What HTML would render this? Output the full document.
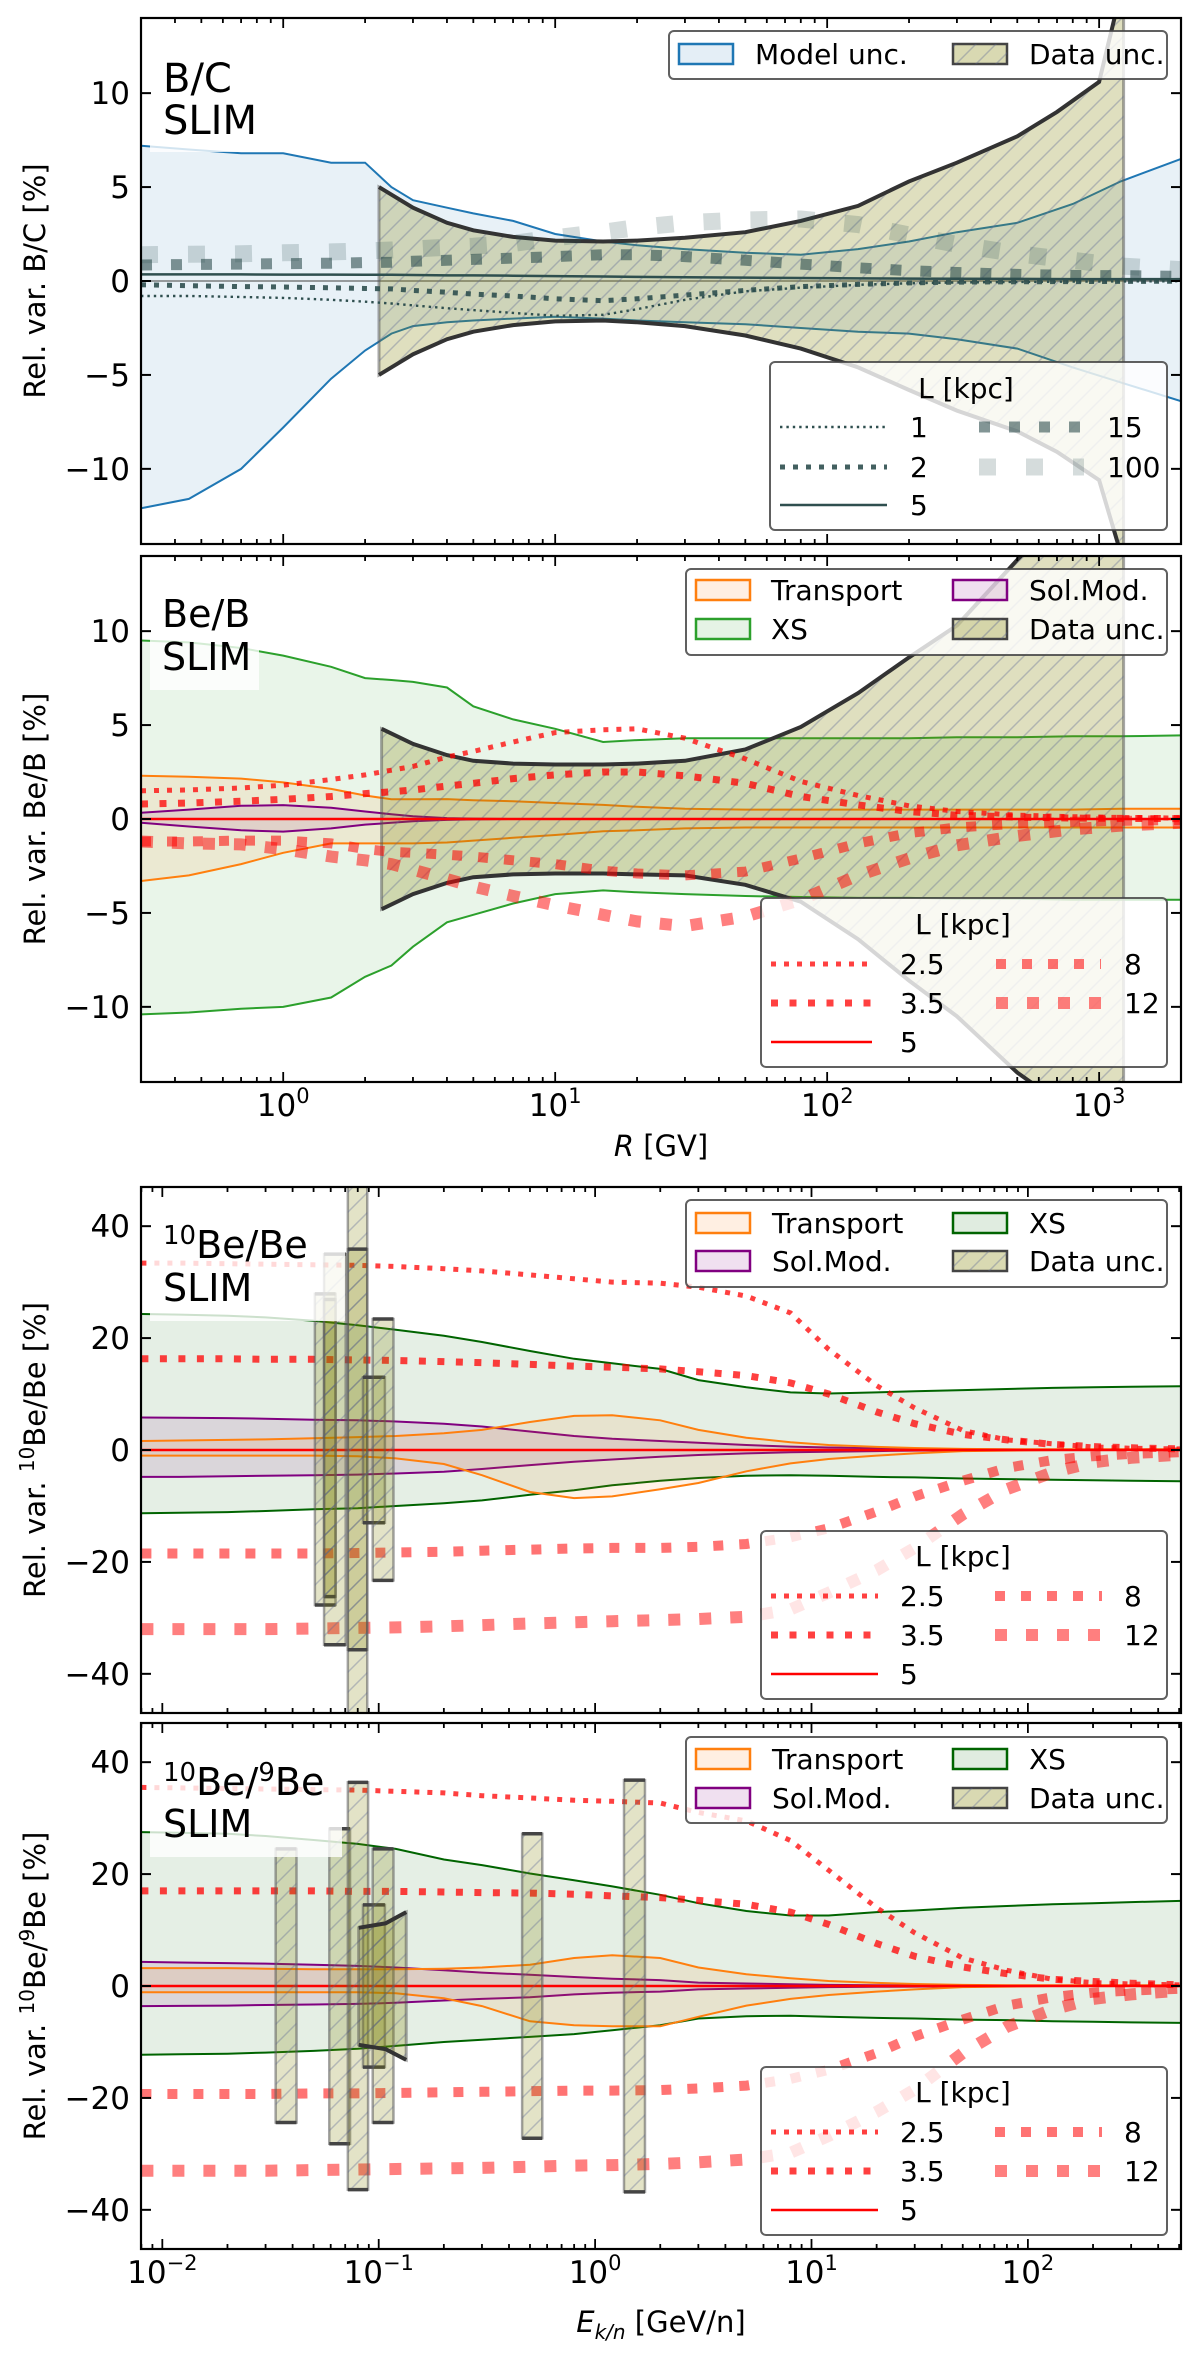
<!DOCTYPE html>
<html><head><meta charset="utf-8"><style>
html,body{margin:0;padding:0;background:#fff;}
svg{display:block;font-family:"DejaVu Sans","Liberation Sans",sans-serif;}
</style></head><body>
<svg id="fig" xmlns="http://www.w3.org/2000/svg" width="1200" height="2355" viewBox="0 0 1200 2355">
<defs>
<pattern id="hatch" width="20" height="20" patternUnits="userSpaceOnUse"><path d="M-5,5 l10,-10 M0,20 l20,-20 M15,25 l10,-10" stroke="rgba(90,100,150,0.35)" stroke-width="1.5"/></pattern>
</defs>
</svg>
<script>
// ===== Panel 1: B/C =====
const bcR = [0.3,0.45,0.7,1,1.5,2,2.5,3,4,5,7,10,15,20,30,50,80,130,200,300,500,800,1200,2000];
const bcModelUp = [7.2,7.0,6.8,6.8,6.3,6.3,5.0,4.3,3.9,3.6,3.2,2.5,2.1,1.9,1.7,1.5,1.4,1.7,2.1,2.6,3.1,4.1,5.3,6.5];
const bcModelLo = [-12.1,-11.6,-10.0,-7.8,-5.2,-3.7,-2.8,-2.4,-2.2,-2.1,-2.0,-1.9,-2.0,-2.1,-2.2,-2.3,-2.5,-2.7,-2.8,-3.1,-3.6,-4.6,-5.4,-6.4];
const bcL1 = [-0.8,-0.8,-0.85,-0.9,-1.0,-1.1,-1.2,-1.3,-1.45,-1.55,-1.7,-1.85,-1.8,-1.5,-1.0,-0.55,-0.35,-0.2,-0.12,-0.08,-0.05,-0.03,-0.02,-0.01];
const bcL2 = [-0.2,-0.25,-0.3,-0.32,-0.36,-0.4,-0.42,-0.5,-0.6,-0.7,-0.8,-0.95,-1.05,-0.95,-0.75,-0.5,-0.3,-0.18,-0.1,-0.06,-0.04,-0.03,-0.02,-0.01];
const bcL5 = [0.35,0.35,0.35,0.34,0.34,0.33,0.33,0.32,0.3,0.3,0.28,0.26,0.24,0.22,0.2,0.18,0.16,0.14,0.13,0.12,0.11,0.1,0.1,0.1];
const bcL15 = [0.85,0.88,0.9,0.92,0.95,0.98,1.0,1.05,1.1,1.15,1.22,1.3,1.4,1.4,1.3,1.1,0.9,0.7,0.55,0.45,0.35,0.3,0.28,0.25];
const bcL100 = [1.4,1.42,1.45,1.5,1.55,1.6,1.65,1.7,1.8,1.85,2.0,2.3,2.6,2.85,3.1,3.25,3.3,3.0,2.45,1.95,1.45,1.1,0.8,0.6];
const bcDataR = [2.25,3,4,5,7,10,15,20,30,50,80,130,200,300,500,700,1000,1230];
const bcDataUp = [5.0,3.9,3.1,2.7,2.35,2.15,2.1,2.15,2.3,2.6,3.2,4.0,5.3,6.3,7.7,9.0,10.6,16];
const bcDataLo = [-5.0,-3.9,-3.1,-2.7,-2.35,-2.15,-2.1,-2.2,-2.4,-2.9,-3.6,-4.6,-5.8,-6.9,-8.0,-9.1,-10.6,-15];

// ===== Panel 2: Be/B =====
const bebR = [0.3,0.45,0.7,1,1.5,2,2.5,3,4,5,7,10,15,20,30,50,80,130,200,300,500,800,1200,2000];
const bebXsUp = [9.5,9.4,9.1,8.7,8.1,7.5,7.4,7.3,7.0,6.0,5.3,4.8,4.1,4.2,4.3,4.3,4.3,4.3,4.3,4.35,4.35,4.4,4.4,4.45];
const bebXsLo = [-10.4,-10.3,-10.1,-10.0,-9.5,-8.4,-7.8,-6.8,-5.5,-5.1,-4.5,-4.0,-3.8,-3.9,-4.0,-4.1,-4.15,-4.2,-4.2,-4.25,-4.25,-4.3,-4.3,-4.3];
const bebTrUp = [2.3,2.25,2.15,1.95,1.6,1.25,1.05,1.05,1.06,1.0,0.95,0.85,0.75,0.65,0.55,0.5,0.5,0.5,0.5,0.5,0.5,0.5,0.55,0.55];
const bebTrLo = [-3.3,-3.0,-2.4,-1.8,-1.3,-1.3,-1.3,-1.3,-1.25,-1.15,-1.0,-0.85,-0.65,-0.6,-0.5,-0.45,-0.45,-0.45,-0.45,-0.45,-0.45,-0.45,-0.45,-0.45];
const bebSmUp = [0.33,0.5,0.7,0.74,0.6,0.4,0.25,0.15,0.05,0.02,0,0,0,0,0,0,0,0,0,0,0,0,0,0];
const bebSmLo = [-0.2,-0.4,-0.6,-0.67,-0.5,-0.3,-0.2,-0.12,-0.05,-0.02,0,0,0,0,0,0,0,0,0,0,0,0,0,0];
const bebL25 = [1.5,1.55,1.65,1.8,2.1,2.35,2.6,2.8,3.3,3.6,4.1,4.6,4.75,4.8,4.3,3.2,2.0,1.25,0.7,0.4,0.2,0.12,0.08,0.05];
const bebL35 = [0.8,0.85,0.95,1.05,1.2,1.35,1.45,1.55,1.75,1.9,2.15,2.35,2.5,2.5,2.3,1.9,1.2,0.75,0.4,0.2,0.1,0.05,0.03,0.02];
const bebL5 = [0,0,0,0,0,0,0,0,0,0,0,0,0,0,0,0,0,0,0,0,0,0,0,0];
const bebL8 = [-1.2,-1.2,-1.15,-1.15,-1.3,-1.6,-1.75,-1.8,-1.9,-2.0,-2.2,-2.4,-2.75,-2.9,-3.0,-2.8,-2.1,-1.3,-0.75,-0.45,-0.25,-0.15,-0.1,-0.05];
const bebL12 = [-1.2,-1.3,-1.35,-1.6,-2.0,-2.2,-2.4,-2.7,-3.2,-3.6,-4.1,-4.6,-5.1,-5.45,-5.7,-5.2,-4.3,-3.0,-2.1,-1.4,-0.9,-0.55,-0.35,-0.2];
const bebDataR = [2.3,3,4,5,7,10,15,20,30,50,80,130,200,300,500,700,1000,1230];
const bebDataUp = [4.8,4.0,3.4,3.1,2.95,2.9,2.9,2.95,3.1,3.7,4.9,6.7,8.6,10.3,13.8,16,18,20];
const bebDataLo = [-4.8,-4.0,-3.4,-3.1,-2.95,-2.9,-2.9,-2.95,-3.0,-3.5,-4.4,-6.4,-8.6,-10.5,-13.5,-15,-17,-19];

// ===== Panel 3: 10Be/Be =====
const be10E = [0.008,0.012,0.02,0.03,0.05,0.08,0.12,0.2,0.3,0.5,0.8,1.2,2,3,5,8,12,20,30,50,80,130,200,300,510];
const be10XsUp = [24.3,24.2,24,23.7,23.1,22.3,21.5,20.4,19.3,17.7,16.3,15.5,14.5,12.5,11.2,10.3,10.1,10.3,10.5,10.7,10.9,11.1,11.2,11.3,11.4];
const be10XsLo = [-11.3,-11.2,-11.1,-10.9,-10.6,-10.4,-10.0,-9.5,-9.0,-8.0,-7.2,-6.3,-5.5,-5.0,-4.6,-4.5,-4.6,-4.8,-4.9,-5.1,-5.2,-5.3,-5.4,-5.5,-5.6];
const be10TrUp = [1.6,1.7,1.8,1.9,2.1,2.3,2.5,3.0,3.6,5.0,6.1,6.2,5.3,3.6,2.2,1.4,0.9,0.55,0.35,0.2,0.15,0.15,0.15,0.15,0.15];
const be10TrLo = [-1,-1,-1,-1,-1,-1.1,-1.5,-2.5,-4.5,-7.5,-8.6,-8.3,-7.0,-5.9,-3.8,-2.4,-1.6,-1.0,-0.6,-0.2,-0.1,0,0,0,0];
const be10SmUp = [5.8,5.75,5.7,5.6,5.4,5.3,5.1,4.7,4.2,3.3,2.5,2.0,1.6,1.3,0.9,0.6,0.45,0.3,0.2,0.15,0.1,0.05,0.03,0.02,0];
const be10SmLo = [-4.8,-4.8,-4.7,-4.6,-4.5,-4.4,-4.2,-3.9,-3.4,-2.7,-2.1,-1.7,-1.2,-0.9,-0.6,-0.4,-0.3,-0.2,-0.1,-0.05,0,0,0,0,0];
const be10L25 = [33.4,33.4,33.3,33.2,33.1,33.0,32.8,32.4,32.0,31.3,30.6,30.0,29.8,29.1,27.5,24.5,18,11.5,7.5,3.5,1.8,1.1,0.55,0.3,0.2];
const be10L35 = [16.3,16.3,16.3,16.2,16.2,16.1,16.0,15.8,15.6,15.3,15.0,14.8,14.5,14.0,13.3,12,10,6.8,4.7,2.8,1.8,1.0,0.6,0.4,0.2];
const be10L5 = [0,0,0,0,0,0,0,0,0,0,0,0,0,0,0,0,0,0,0,0,0,0,0,0,0];
const be10L8 = [-18.5,-18.5,-18.5,-18.5,-18.5,-18.4,-18.3,-18.2,-18.0,-17.8,-17.6,-17.5,-17.5,-17.3,-16.8,-15.6,-14,-11,-8.3,-5.5,-3.2,-1.8,-1.1,-0.7,-0.4];
const be10L12 = [-32,-32,-32,-32,-31.9,-31.8,-31.7,-31.5,-31.3,-31.0,-30.8,-30.6,-30.4,-30.2,-29.8,-28.5,-25.5,-21.5,-17.5,-11.5,-7,-4,-2.2,-1.4,-0.8];
// data bars: [Elow, Ehigh, low, high]
const be10Bars = [[0.0507,0.0632,-27.7,27.9],[0.0559,0.0632,-26.2,26.9],[0.0559,0.0704,-34.8,35.0],[0.0720,0.0885,-80,80],[0.0720,0.0885,-35.7,35.9],[0.0846,0.1068,-13,13],[0.0938,0.1170,-23.3,23.4]];

// ===== Panel 4: 10Be/9Be =====
const be9E = [0.008,0.012,0.02,0.03,0.05,0.08,0.12,0.2,0.3,0.5,0.8,1.2,2,3,5,8,12,20,30,50,80,130,200,300,510];
const be9XsUp = [27.5,27.4,27.2,26.8,26.1,25.4,24.5,22.6,21.6,20.1,18.9,17.8,16.3,14.8,13.4,12.6,12.6,13.2,13.5,14.0,14.3,14.6,14.8,15.0,15.2];
const be9XsLo = [-12.3,-12.2,-12.1,-11.9,-11.6,-11.2,-10.7,-10.0,-9.6,-9.1,-8.6,-7.9,-7.0,-5.8,-5.4,-5.3,-5.5,-5.7,-5.8,-6.0,-6.1,-6.3,-6.4,-6.5,-6.6];
const be9TrUp = [3.2,3.2,3.2,3.1,3.0,3.0,3.0,3.1,3.3,3.8,5.0,5.5,5.0,3.3,2.1,1.4,0.9,0.55,0.35,0.2,0.15,0.15,0.15,0.15,0.15];
const be9TrLo = [-1.1,-1.1,-1.1,-1.1,-1.1,-1.1,-1.3,-2.2,-3.6,-6.3,-7.0,-7.2,-7.2,-5.5,-3.5,-2.3,-1.6,-1.0,-0.6,-0.2,-0.1,0,0,0,0];
const be9SmUp = [4.3,4.2,4.1,4.0,3.8,3.6,3.3,2.8,2.4,2.0,1.6,1.3,1.05,0.6,0.45,0.3,0.2,0.15,0.1,0.05,0,0,0,0,0];
const be9SmLo = [-3.6,-3.55,-3.5,-3.4,-3.3,-3.2,-3.0,-2.6,-2.3,-2.0,-1.5,-1.2,-1.0,-0.6,-0.45,-0.3,-0.2,-0.15,-0.1,-0.05,0,0,0,0,0];
const be9L25 = [35.5,35.4,35.3,35.2,35.1,35.0,34.8,34.5,34.0,33.6,33.2,33.0,32.7,31.0,29.5,26,20.7,14,9.5,5,2.8,1.2,0.6,0.35,0.2];
const be9L35 = [17,17,17,17,17,16.9,16.9,16.8,16.7,16.6,16.4,16.1,15.8,15.3,14.6,13.2,11,7.6,5.3,3.4,2.2,1.2,0.8,0.5,0.2];
const be9L5 = [0,0,0,0,0,0,0,0,0,0,0,0,0,0,0,0,0,0,0,0,0,0,0,0,0];
const be9L8 = [-19.3,-19.3,-19.3,-19.3,-19.2,-19.2,-19.1,-19.0,-18.9,-18.8,-18.7,-18.7,-18.6,-18.3,-17.8,-16.6,-15,-12,-9,-6,-3.5,-2,-1.2,-0.8,-0.5];
const be9L12 = [-33,-33,-33,-33,-32.9,-32.8,-32.7,-32.6,-32.5,-32.3,-32.1,-32,-31.8,-31.5,-31,-29.8,-26.8,-22.5,-18.5,-12,-7.3,-4.2,-2.3,-1.5,-0.8];
const be9Bars = [[0.0334,0.0417,-24.4,24.5],[0.0591,0.0737,-28.2,28.1],[0.0720,0.0893,-36.4,36.4],[0.0846,0.1068,-14.5,14.5],[0.0938,0.1170,-24.4,24.5],[0.46,0.57,-27.2,27.2],[1.36,1.7,-36.8,36.8]];
const be9BandE = [0.0808,0.1077,0.134];
const be9BandUp = [10.4,11.2,13.2];
const be9BandLo = [-10.5,-11.3,-13.2];

// tick labels
const yTicksBC = [-10,-5,0,5,10];
const yTicksBe = [-40,-20,0,20,40];
const xDecadesR = [0,1,2,3];
const xDecadesE = [-2,-1,0,1,2];

const NS = "http://www.w3.org/2000/svg";
const svg = document.getElementById('fig');
function mk(parent, tag, attrs, txt){
  const el = document.createElementNS(NS, tag);
  for (const k in attrs) el.setAttribute(k, attrs[k]);
  if (txt !== undefined) el.textContent = txt;
  parent.appendChild(el);
  return el;
}
function makePanel(id, y0, y1, xmin, xmax, ymin, ymax){
  const p = {x0:141, x1:1181, y0:y0, y1:y1, lx0:Math.log10(xmin), lx1:Math.log10(xmax), ymin:ymin, ymax:ymax};
  p.sx = v => p.x0 + (Math.log10(v)-p.lx0)/(p.lx1-p.lx0)*(p.x1-p.x0);
  p.sy = v => p.y1 - (v-p.ymin)/(p.ymax-p.ymin)*(p.y1-p.y0);
  const cp = mk(svg.querySelector('defs'), 'clipPath', {id:'clip-'+id});
  mk(cp, 'rect', {x:p.x0, y:p.y0, width:p.x1-p.x0, height:p.y1-p.y0});
  p.g = mk(svg, 'g', {'clip-path':'url(#clip-'+id+')'});
  
  
  return p;
}
function pathLine(p, xs, ys){
  return xs.map((x,i)=>(i?'L':'M')+p.sx(x).toFixed(1)+','+p.sy(ys[i]).toFixed(1)).join(' ');
}
function band(p, xs, up, lo, color, name, fillOp){
  let d = pathLine(p, xs, up);
  for (let i=xs.length-1;i>=0;i--) d += ' L'+p.sx(xs[i]).toFixed(1)+','+p.sy(lo[i]).toFixed(1);
  const f = mk(p.g, 'path', {d:d+' Z', fill:color, 'fill-opacity':fillOp||0.1, stroke:'none'});
  
  
  const a = mk(p.g, 'path', {d:pathLine(p, xs, up), fill:'none', stroke:color, 'stroke-width':2});
  
  
  const b = mk(p.g, 'path', {d:pathLine(p, xs, lo), fill:'none', stroke:color, 'stroke-width':2});
  
  
}
function dataBand(p, xs, up, lo, name){
  let d = pathLine(p, xs, up);
  for (let i=xs.length-1;i>=0;i--) d += ' L'+p.sx(xs[i]).toFixed(1)+','+p.sy(lo[i]).toFixed(1);
  d += ' Z';
  const f = mk(p.g, 'path', {d:d, fill:'olive', 'fill-opacity':0.25, stroke:'rgba(80,80,80,0.5)', 'stroke-width':3});
  
  
  const h = mk(p.g, 'path', {d:d, fill:'url(#hatch)', stroke:'none'});
  
  
  const a = mk(p.g, 'path', {d:pathLine(p, xs, up), fill:'none', stroke:'#333', 'stroke-width':4});
  
  
  const b = mk(p.g, 'path', {d:pathLine(p, xs, lo), fill:'none', stroke:'#333', 'stroke-width':4});
  
  
}
function curve(p, xs, ys, color, op, lw, dash, name){
  const attrs = {d:pathLine(p, xs, ys), fill:'none', stroke:color, 'stroke-opacity':op, 'stroke-width':lw};
  if (dash) attrs['stroke-dasharray'] = dash;
  const el = mk(p.g, 'path', attrs);
  
  
}
function bars(p, list, name){
  list.forEach((b,i)=>{
    const x = p.sx(b[0]), w = p.sx(b[1])-x, yt = p.sy(b[3]), yb = p.sy(b[2]);
    const r = mk(p.g, 'rect', {x:x, y:yt, width:w, height:yb-yt, fill:'olive', 'fill-opacity':0.22, stroke:'rgba(90,90,90,0.55)', 'stroke-width':2.5});
    
    
    const hh = mk(p.g, 'rect', {x:x, y:yt, width:w, height:yb-yt, fill:'url(#hatch)'});
    
    
    [yt,yb].forEach(yy=>{
      const c = mk(p.g, 'line', {x1:x, x2:x+w, y1:yy, y2:yy, stroke:'#444', 'stroke-width':3.5});
      
      
    });
  });
}
function axes(p, id, yTicks, decades, showXLabels){
  const g = mk(svg, 'g', {});
  
  
  const fr = mk(g, 'rect', {x:p.x0, y:p.y0, width:p.x1-p.x0, height:p.y1-p.y0, fill:'none', stroke:'#000', 'stroke-width':2.2});
  
  
  yTicks.forEach(t=>{
    const y = p.sy(t);
    mk(g, 'line', {x1:p.x0, x2:p.x0+10, y1:y, y2:y, stroke:'#000', 'stroke-width':2});
    mk(g, 'line', {x1:p.x1, x2:p.x1-10, y1:y, y2:y, stroke:'#000', 'stroke-width':2});
    const tl = mk(g, 'text', {x:130, y:y+11, 'text-anchor':'end', 'font-size':31, fill:'#000'}, (t<0?'\u2212':'')+Math.abs(t));
    
    
  });
  const dmin = Math.floor(p.lx0), dmax = Math.ceil(p.lx1);
  for (let d=dmin; d<=dmax; d++){
    for (let m=1; m<10; m++){
      const lv = d + Math.log10(m);
      if (lv < p.lx0-1e-6 || lv > p.lx1+1e-6) continue;
      const x = p.sx(Math.pow(10, lv)), len = m===1?10:5;
      mk(g, 'line', {x1:x, x2:x, y1:p.y1, y2:p.y1-len, stroke:'#000', 'stroke-width':1.8});
      mk(g, 'line', {x1:x, x2:x, y1:p.y0, y2:p.y0+len, stroke:'#000', 'stroke-width':1.8});
    }
  }
  if (showXLabels){
    decades.forEach(d=>{
      const x = p.sx(Math.pow(10,d));
      const t = mk(g, 'text', {x:x, y:p.y1+34, 'text-anchor':'middle', 'font-size':31, fill:'#000'});
      
      
      mk(t, 'tspan', {}, '10');
      mk(t, 'tspan', {dy:-13, 'font-size':21}, (d<0?'\u2212':'')+Math.abs(d));
    });
  }
}
function legendBox(x0,y0,x1,y1,name){
  const r = mk(svg, 'rect', {x:x0, y:y0, width:x1-x0, height:y1-y0, rx:5, fill:'#fff', 'fill-opacity':0.8, stroke:'#444', 'stroke-opacity':0.85, 'stroke-width':2});
  
  
}
function legPatch(x, yc, color, label, tx, hatch){
  const r = mk(svg, 'rect', {x:x, y:yc-10, width:54, height:20, fill:color, 'fill-opacity':hatch?0.3:0.12, stroke:hatch?'#444':color, 'stroke-width':2.5});
  
  
  if (hatch) mk(svg, 'rect', {x:x, y:yc-10, width:54, height:20, fill:'url(#hatch)'});
  const t = mk(svg, 'text', {x:tx, y:yc+10, 'font-size':28, fill:'#000'}, label);
  
  
}
function legLine(x0, x1, yc, color, op, lw, dash, label, tx){
  const a = {x1:x0, x2:x1, y1:yc, y2:yc, stroke:color, 'stroke-opacity':op, 'stroke-width':lw};
  if (dash) a['stroke-dasharray'] = dash;
  const l = mk(svg, 'line', a);
  
  
  const t = mk(svg, 'text', {x:tx, y:yc+10, 'font-size':28, fill:'#000'}, label);
  
  
}
function labelBox(x0,y0,x1,y1,name){
  const r = mk(svg, 'rect', {x:x0, y:y0, width:x1-x0, height:y1-y0, fill:'#fff', 'fill-opacity':0.8});
  
  
}
function yLabel(yc, parts, name){
  const t = mk(svg, 'text', {x:0, y:0, transform:'translate(45,'+yc+') rotate(-90)', 'text-anchor':'middle', 'font-size':29, fill:'#000'});
  
  
  parts.forEach(pt=>{
    if (pt[1]) mk(t, 'tspan', {dy:-11, 'font-size':20}, pt[0]);
    else mk(t, 'tspan', {dy:pt[2]||0}, pt[0]);
  });
}
const red = '#ff0000';
const dsg = '#2f4f4f';

// ---------- Panel 1 ----------
const p1 = makePanel('bc', 18, 544, 0.3, 2000, -14, 14);
band(p1, bcR, bcModelUp, bcModelLo, '#1f77b4', 'model-unc');
mk(p1.g, 'line', {x1:p1.x0, x2:p1.x1, y1:p1.sy(0), y2:p1.sy(0), stroke:'#666', 'stroke-width':1.2});
dataBand(p1, bcDataR, bcDataUp, bcDataLo, 'bc-data-unc');
curve(p1, bcR, bcL1, dsg, 1, 2.4, '2.4,4', 'bc-L1');
curve(p1, bcR, bcL2, dsg, 0.9, 5, '5,8', 'bc-L2');
curve(p1, bcR, bcL5, dsg, 1, 2.5, null, 'bc-L5');
curve(p1, bcR, bcL15, dsg, 0.6, 11, '11,19', 'bc-L15');
curve(p1, bcR, bcL100, dsg, 0.2, 17, '17,30', 'bc-L100');
labelBox(150, 52, 262, 152, 'bc-label-box');
axes(p1, 'bc', yTicksBC, xDecadesR, false);
const t1 = mk(svg, 'text', {x:163, y:92, 'font-size':40, fill:'#000'}, 'B/C');


const t1b = mk(svg, 'text', {x:163, y:134, 'font-size':40, fill:'#000'}, 'SLIM');


legendBox(669, 31, 1167, 79, 'bc-legend-unc');
legPatch(679, 54, '#1f77b4', 'Model unc.', 755, false);
legPatch(953, 54, 'olive', 'Data unc.', 1029, true);
legendBox(770, 362, 1167, 530, 'bc-legend-L');
mk(svg, 'text', {x:966, y:398, 'text-anchor':'middle', 'font-size':28, fill:'#000'}, 'L [kpc]');
legLine(780, 887, 427, dsg, 1, 2.4, '2.4,4', '1', 910);
legLine(780, 887, 467, dsg, 0.9, 5, '5,8', '2', 910);
legLine(780, 887, 505, dsg, 1, 2.5, null, '5', 910);
legLine(979, 1084, 427, dsg, 0.6, 11, '11,19', '15', 1107);
legLine(979, 1084, 467, dsg, 0.2, 17, '17,30', '100', 1107);
yLabel(281, [['Rel. var. B/C [%]',false]], 'bc-y-axis-title');

// ---------- Panel 2 ----------
const p2 = makePanel('beb', 556, 1082, 0.3, 2000, -14, 14);
band(p2, bebR, bebXsUp, bebXsLo, '#2ca02c', 'beb-xs');
band(p2, bebR, bebTrUp, bebTrLo, '#ff7f0e', 'beb-transport');
band(p2, bebR, bebSmUp, bebSmLo, '#800080', 'beb-solmod');
dataBand(p2, bebDataR, bebDataUp, bebDataLo, 'beb-data-unc');
curve(p2, bebR, bebL25, red, 0.75, 5, '5,8', 'beb-L2.5');
curve(p2, bebR, bebL35, red, 0.75, 7, '7,11.5', 'beb-L3.5');
curve(p2, bebR, bebL5, red, 1, 2.5, null, 'beb-L5');
curve(p2, bebR, bebL8, red, 0.55, 10, '10,16', 'beb-L8');
curve(p2, bebR, bebL12, red, 0.5, 12, '12,19', 'beb-L12');
labelBox(150, 590, 259, 690, 'beb-label-box');
axes(p2, 'beb', yTicksBC, xDecadesR, true);
const t2 = mk(svg, 'text', {x:162, y:627, 'font-size':38, fill:'#000'}, 'Be/B');


const t2b = mk(svg, 'text', {x:162, y:670, 'font-size':38, fill:'#000'}, 'SLIM');


legendBox(686, 569, 1167, 655, 'beb-legend-unc');
legPatch(696, 590, '#ff7f0e', 'Transport', 771, false);
legPatch(696, 629, '#2ca02c', 'XS', 771, false);
legPatch(953, 590, '#800080', 'Sol.Mod.', 1029, false);
legPatch(953, 629, 'olive', 'Data unc.', 1029, true);
legendBox(761, 898, 1167, 1067, 'beb-legend-L');
mk(svg, 'text', {x:963, y:934, 'text-anchor':'middle', 'font-size':28, fill:'#000'}, 'L [kpc]');
legLine(771, 872, 964, red, 0.75, 5, '5,8', '2.5', 900);
legLine(771, 872, 1003, red, 0.75, 7, '7,11.5', '3.5', 900);
legLine(771, 872, 1042, red, 1, 2.5, null, '5', 900);
legLine(996, 1101, 964, red, 0.55, 10, '10,16', '8', 1124);
legLine(996, 1101, 1003, red, 0.5, 12, '12,19', '12', 1124);
yLabel(819, [['Rel. var. Be/B [%]',false]], 'beb-y-axis-title');
const xt1 = mk(svg, 'text', {x:661, y:1156, 'text-anchor':'middle', 'font-size':29, fill:'#000'});


mk(xt1, 'tspan', {'font-style':'italic'}, 'R');
mk(xt1, 'tspan', {}, ' [GV]');

// ---------- Panel 3 ----------
const p3 = makePanel('be10be', 1187, 1713, 0.00797, 510, -47, 47);
band(p3, be10E, be10XsUp, be10XsLo, '#006400', 'be10-xs');
band(p3, be10E, be10SmUp, be10SmLo, '#800080', 'be10-solmod');
band(p3, be10E, be10TrUp, be10TrLo, '#ff7f0e', 'be10-transport');
curve(p3, be10E, be10L25, red, 0.75, 5, '5,8', 'be10-L2.5');
curve(p3, be10E, be10L35, red, 0.75, 7, '7,11.5', 'be10-L3.5');
curve(p3, be10E, be10L5, red, 1, 2.5, null, 'be10-L5');
curve(p3, be10E, be10L8, red, 0.55, 10, '10,16', 'be10-L8');
curve(p3, be10E, be10L12, red, 0.5, 12, '12,19', 'be10-L12');
bars(p3, be10Bars, 'be10-data-bar');
labelBox(150, 1215, 345, 1321, 'be10-label-box');
axes(p3, 'be10be', yTicksBe, xDecadesE, false);
const t3 = mk(svg, 'text', {x:163, y:1258, 'font-size':38, fill:'#000'});


mk(t3, 'tspan', {'font-size':26, dy:-14}, '10');
mk(t3, 'tspan', {dy:14}, 'Be/Be');
const t3b = mk(svg, 'text', {x:163, y:1301, 'font-size':38, fill:'#000'}, 'SLIM');


legendBox(686, 1200, 1167, 1287, 'be10-legend-unc');
legPatch(696, 1223, '#ff7f0e', 'Transport', 772, false);
legPatch(696, 1261, '#800080', 'Sol.Mod.', 772, false);
legPatch(953, 1223, '#006400', 'XS', 1029, false);
legPatch(953, 1261, 'olive', 'Data unc.', 1029, true);
legendBox(761, 1531, 1167, 1699, 'be10-legend-L');
mk(svg, 'text', {x:963, y:1566, 'text-anchor':'middle', 'font-size':28, fill:'#000'}, 'L [kpc]');
legLine(771, 878, 1596, red, 0.75, 5, '5,8', '2.5', 900);
legLine(771, 878, 1635, red, 0.75, 7, '7,11.5', '3.5', 900);
legLine(771, 878, 1674, red, 1, 2.5, null, '5', 900);
legLine(995, 1102, 1596, red, 0.55, 10, '10,16', '8', 1124);
legLine(995, 1102, 1635, red, 0.5, 12, '12,19', '12', 1124);
yLabel(1450, [['Rel. var. ',false],['10',true],['Be/Be [%]',false,11]], 'be10-y-axis-title');

// ---------- Panel 4 ----------
const p4 = makePanel('be10be9', 1723, 2249, 0.00797, 510, -47, 47);
band(p4, be9E, be9XsUp, be9XsLo, '#006400', 'be9-xs');
band(p4, be9E, be9SmUp, be9SmLo, '#800080', 'be9-solmod');
band(p4, be9E, be9TrUp, be9TrLo, '#ff7f0e', 'be9-transport');
curve(p4, be9E, be9L25, red, 0.75, 5, '5,8', 'be9-L2.5');
curve(p4, be9E, be9L35, red, 0.75, 7, '7,11.5', 'be9-L3.5');
curve(p4, be9E, be9L5, red, 1, 2.5, null, 'be9-L5');
curve(p4, be9E, be9L8, red, 0.55, 10, '10,16', 'be9-L8');
curve(p4, be9E, be9L12, red, 0.5, 12, '12,19', 'be9-L12');
bars(p4, be9Bars, 'be9-data-bar');
dataBand(p4, be9BandE, be9BandUp, be9BandLo, 'be9-data-band');
labelBox(150, 1752, 342, 1857, 'be9-label-box');
axes(p4, 'be10be9', yTicksBe, xDecadesE, true);
const t4 = mk(svg, 'text', {x:163, y:1795, 'font-size':38, fill:'#000'});


mk(t4, 'tspan', {'font-size':26, dy:-14}, '10');
mk(t4, 'tspan', {dy:14}, 'Be/');
mk(t4, 'tspan', {'font-size':26, dy:-14}, '9');
mk(t4, 'tspan', {dy:14}, 'Be');
const t4b = mk(svg, 'text', {x:163, y:1837, 'font-size':38, fill:'#000'}, 'SLIM');


legendBox(686, 1737, 1167, 1823, 'be9-legend-unc');
legPatch(696, 1759, '#ff7f0e', 'Transport', 772, false);
legPatch(696, 1798, '#800080', 'Sol.Mod.', 772, false);
legPatch(953, 1759, '#006400', 'XS', 1029, false);
legPatch(953, 1798, 'olive', 'Data unc.', 1029, true);
legendBox(761, 2067, 1167, 2235, 'be9-legend-L');
mk(svg, 'text', {x:963, y:2102, 'text-anchor':'middle', 'font-size':28, fill:'#000'}, 'L [kpc]');
legLine(771, 878, 2132, red, 0.75, 5, '5,8', '2.5', 900);
legLine(771, 878, 2171, red, 0.75, 7, '7,11.5', '3.5', 900);
legLine(771, 878, 2210, red, 1, 2.5, null, '5', 900);
legLine(995, 1102, 2132, red, 0.55, 10, '10,16', '8', 1124);
legLine(995, 1102, 2171, red, 0.5, 12, '12,19', '12', 1124);
yLabel(1986, [['Rel. var. ',false],['10',true],['Be/',false,11],['9',true],['Be [%]',false,11]], 'be9-y-axis-title');
const xt2 = mk(svg, 'text', {x:661, y:2332, 'text-anchor':'middle', 'font-size':29, fill:'#000'});


mk(xt2, 'tspan', {'font-style':'italic'}, 'E');
mk(xt2, 'tspan', {'font-style':'italic', 'font-size':20, dy:7}, 'k/n');
mk(xt2, 'tspan', {dy:-7}, ' [GeV/n]');
</script>
</body></html>
